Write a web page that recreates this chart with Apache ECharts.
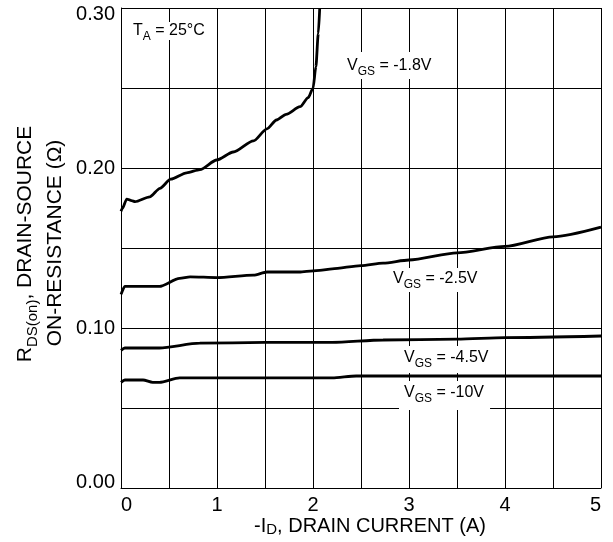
<!DOCTYPE html>
<html><head><meta charset="utf-8">
<script src="https://cdn.jsdelivr.net/npm/echarts@6/dist/echarts.min.js"></script>
<style>html,body{margin:0;padding:0;background:#fff}#c{width:613px;height:542px}</style>
</head><body><div id="c"></div>
<script>
// ---- data ----
const vgs18_I = [0.0, 0.014, 0.06, 0.11, 0.146, 0.30, 0.406, 0.518, 0.684, 0.823, 0.997, 1.17, 1.38, 1.52, 1.62, 1.72, 1.865, 1.95, 2.0, 2.03, 2.055, 2.07];
const vgs18_R = [0.173, 0.1748, 0.1806, 0.1796, 0.179, 0.182, 0.1873, 0.193, 0.197, 0.199, 0.205, 0.210, 0.217, 0.2245, 0.230, 0.2335, 0.2383, 0.244, 0.2498, 0.2633, 0.284, 0.300];

const vgs25_I = [0.0, 0.04, 0.40, 0.61, 0.72, 1.0, 1.38, 1.52, 1.87, 2.07, 2.2, 2.5, 2.73, 3.0, 3.5, 4.0, 4.5, 5.0];
const vgs25_R = [0.121, 0.126, 0.126, 0.131, 0.132, 0.1315, 0.133, 0.135, 0.135, 0.136, 0.137, 0.139, 0.1406, 0.1425, 0.147, 0.151, 0.157, 0.163];

const vgs45_I = [0.0, 0.04, 0.40, 0.82, 1.5, 2.2, 2.73, 3.5, 4.0, 5.0];
const vgs45_R = [0.086, 0.0875, 0.0875, 0.0905, 0.091, 0.091, 0.0925, 0.093, 0.094, 0.095];

const vgs10_I = [0.0, 0.04, 0.23, 0.33, 0.40, 0.61, 1.34, 2.2, 2.45, 5.0];
const vgs10_R = [0.066, 0.0675, 0.0675, 0.066, 0.066, 0.0688, 0.0688, 0.0688, 0.070, 0.070];

const xTickLabels = ['0', '1', '2', '3', '4', '5'];
const yTickLabels = ['0.00', '0.10', '0.20', '0.30'];

const curveNames = ['VGS = -1.8V', 'VGS = -2.5V', 'VGS = -4.5V', 'VGS = -10V'];
const annotationTexts = ['V{s|GS} = -1.8V', 'V{s|GS} = -2.5V', 'V{s|GS} = -4.5V', 'V{s|GS} = -10V'];
const tempText = 'T{s|A} = 25°C';
const xTitle = '-I{s|D}, DRAIN CURRENT (A)';
const yTitle1 = 'R{s|DS(on)}, DRAIN-SOURCE';
const yTitle2 = 'ON-RESISTANCE (Ω)';

// ---- chart ----
const FONT = '"Liberation Sans", Arial, Helvetica, sans-serif';
function pairs(I, R) { return I.map((x, i) => [x, R[i]]); }
function curve(name, I, R) {
  return {
    type: 'line', name: name, data: pairs(I, R),
    showSymbol: false, symbol: 'none', smooth: 0.25, smoothMonotone: 'x',
    lineStyle: { color: '#000', width: 2.8 }, z: 3, silent: true
  };
}
function label(text, x, y, pad, size, subH) {
  return {
    type: 'text', x: x, y: y, z: 1,
    style: {
      text: text, fontSize: size, fontFamily: FONT, fill: '#000',
      lineHeight: size + 2,
      textAlign: 'left', textVerticalAlign: 'top',
      backgroundColor: '#fff', padding: pad,
      rich: { s: { fontSize: Math.round(size * 0.75), fontFamily: FONT, fill: '#000', height: subH, verticalAlign: 'bottom' } }
    }
  };
}

const chart = echarts.init(document.getElementById('c'), null, { renderer: 'canvas' });
chart.setOption({
  animation: false,
  backgroundColor: '#fff',
  grid: { left: 121, right: 12, top: 8, bottom: 54, containLabel: false, outerBoundsMode: 'none' },
  xAxis: {
    type: 'value', min: 0, max: 5, interval: 0.5,
    axisLine: { show: true, lineStyle: { color: '#000', width: 1 } },
    axisTick: { show: false },
    splitLine: { show: true, lineStyle: { color: '#000', width: 1 } },
    axisLabel: {
      color: '#000', fontSize: 20, fontFamily: FONT, margin: 7,
      alignMinLabel: 'left', alignMaxLabel: 'right',
      formatter: v => { const k = Math.round(v * 2); return k % 2 === 0 ? xTickLabels[k / 2] : ''; }
    }
  },
  yAxis: {
    type: 'value', min: 0, max: 0.3, interval: 0.05,
    axisLine: { show: true, lineStyle: { color: '#000', width: 1 } },
    axisTick: { show: false },
    splitLine: { show: true, lineStyle: { color: '#000', width: 1 } },
    axisLabel: {
      color: '#000', fontSize: 20, fontFamily: FONT, margin: 6, lineHeight: 12,
      verticalAlignMinLabel: 'bottom', verticalAlignMaxLabel: 'top',
      formatter: v => { const k = Math.round(v * 20); return k % 2 === 0 ? yTickLabels[k / 2] : ''; }
    }
  },
  series: [
    curve(curveNames[0], vgs18_I, vgs18_R),
    curve(curveNames[1], vgs25_I, vgs25_R),
    curve(curveNames[2], vgs45_I, vgs45_R),
    curve(curveNames[3], vgs10_I, vgs10_R)
  ],
  graphic: [
    label(tempText, 131, 22, [0, 2, 0, 2], 16, 7),
    label(annotationTexts[0], 343, 52, [5, 4, 4, 4], 16, 6),
    label(annotationTexts[1], 389, 268, [2, 4, 4, 4], 16, 6),
    label(annotationTexts[2], 399, 346, [3, 5, 6, 5], 16, 6),
    label(annotationTexts[3], 399, 381, [3, 6, 8, 5], 16, 6),
    {
      type: 'text', x: 370, y: 526, z: 1,
      style: {
        text: xTitle, fontSize: 20, fontFamily: FONT, fill: '#000', lineHeight: 22,
        textAlign: 'center', textVerticalAlign: 'middle',
        rich: { s: { fontSize: 15, fontFamily: FONT, fill: '#000', height: 14, verticalAlign: 'bottom' } }
      }
    },
    {
      type: 'text', x: 25, y: 244, rotation: Math.PI / 2, z: 1,
      style: {
        text: yTitle1, fontSize: 21, fontFamily: FONT, fill: '#000', lineHeight: 24,
        textAlign: 'center', textVerticalAlign: 'middle',
        rich: { s: { fontSize: 15, fontFamily: FONT, fill: '#000', height: 8, verticalAlign: 'bottom' } }
      }
    },
    {
      type: 'text', x: 55, y: 243, rotation: Math.PI / 2, z: 1,
      style: {
        text: yTitle2, fontSize: 21, fontFamily: FONT, fill: '#000',
        textAlign: 'center', textVerticalAlign: 'middle'
      }
    }
  ]
});
</script>
</body></html>
